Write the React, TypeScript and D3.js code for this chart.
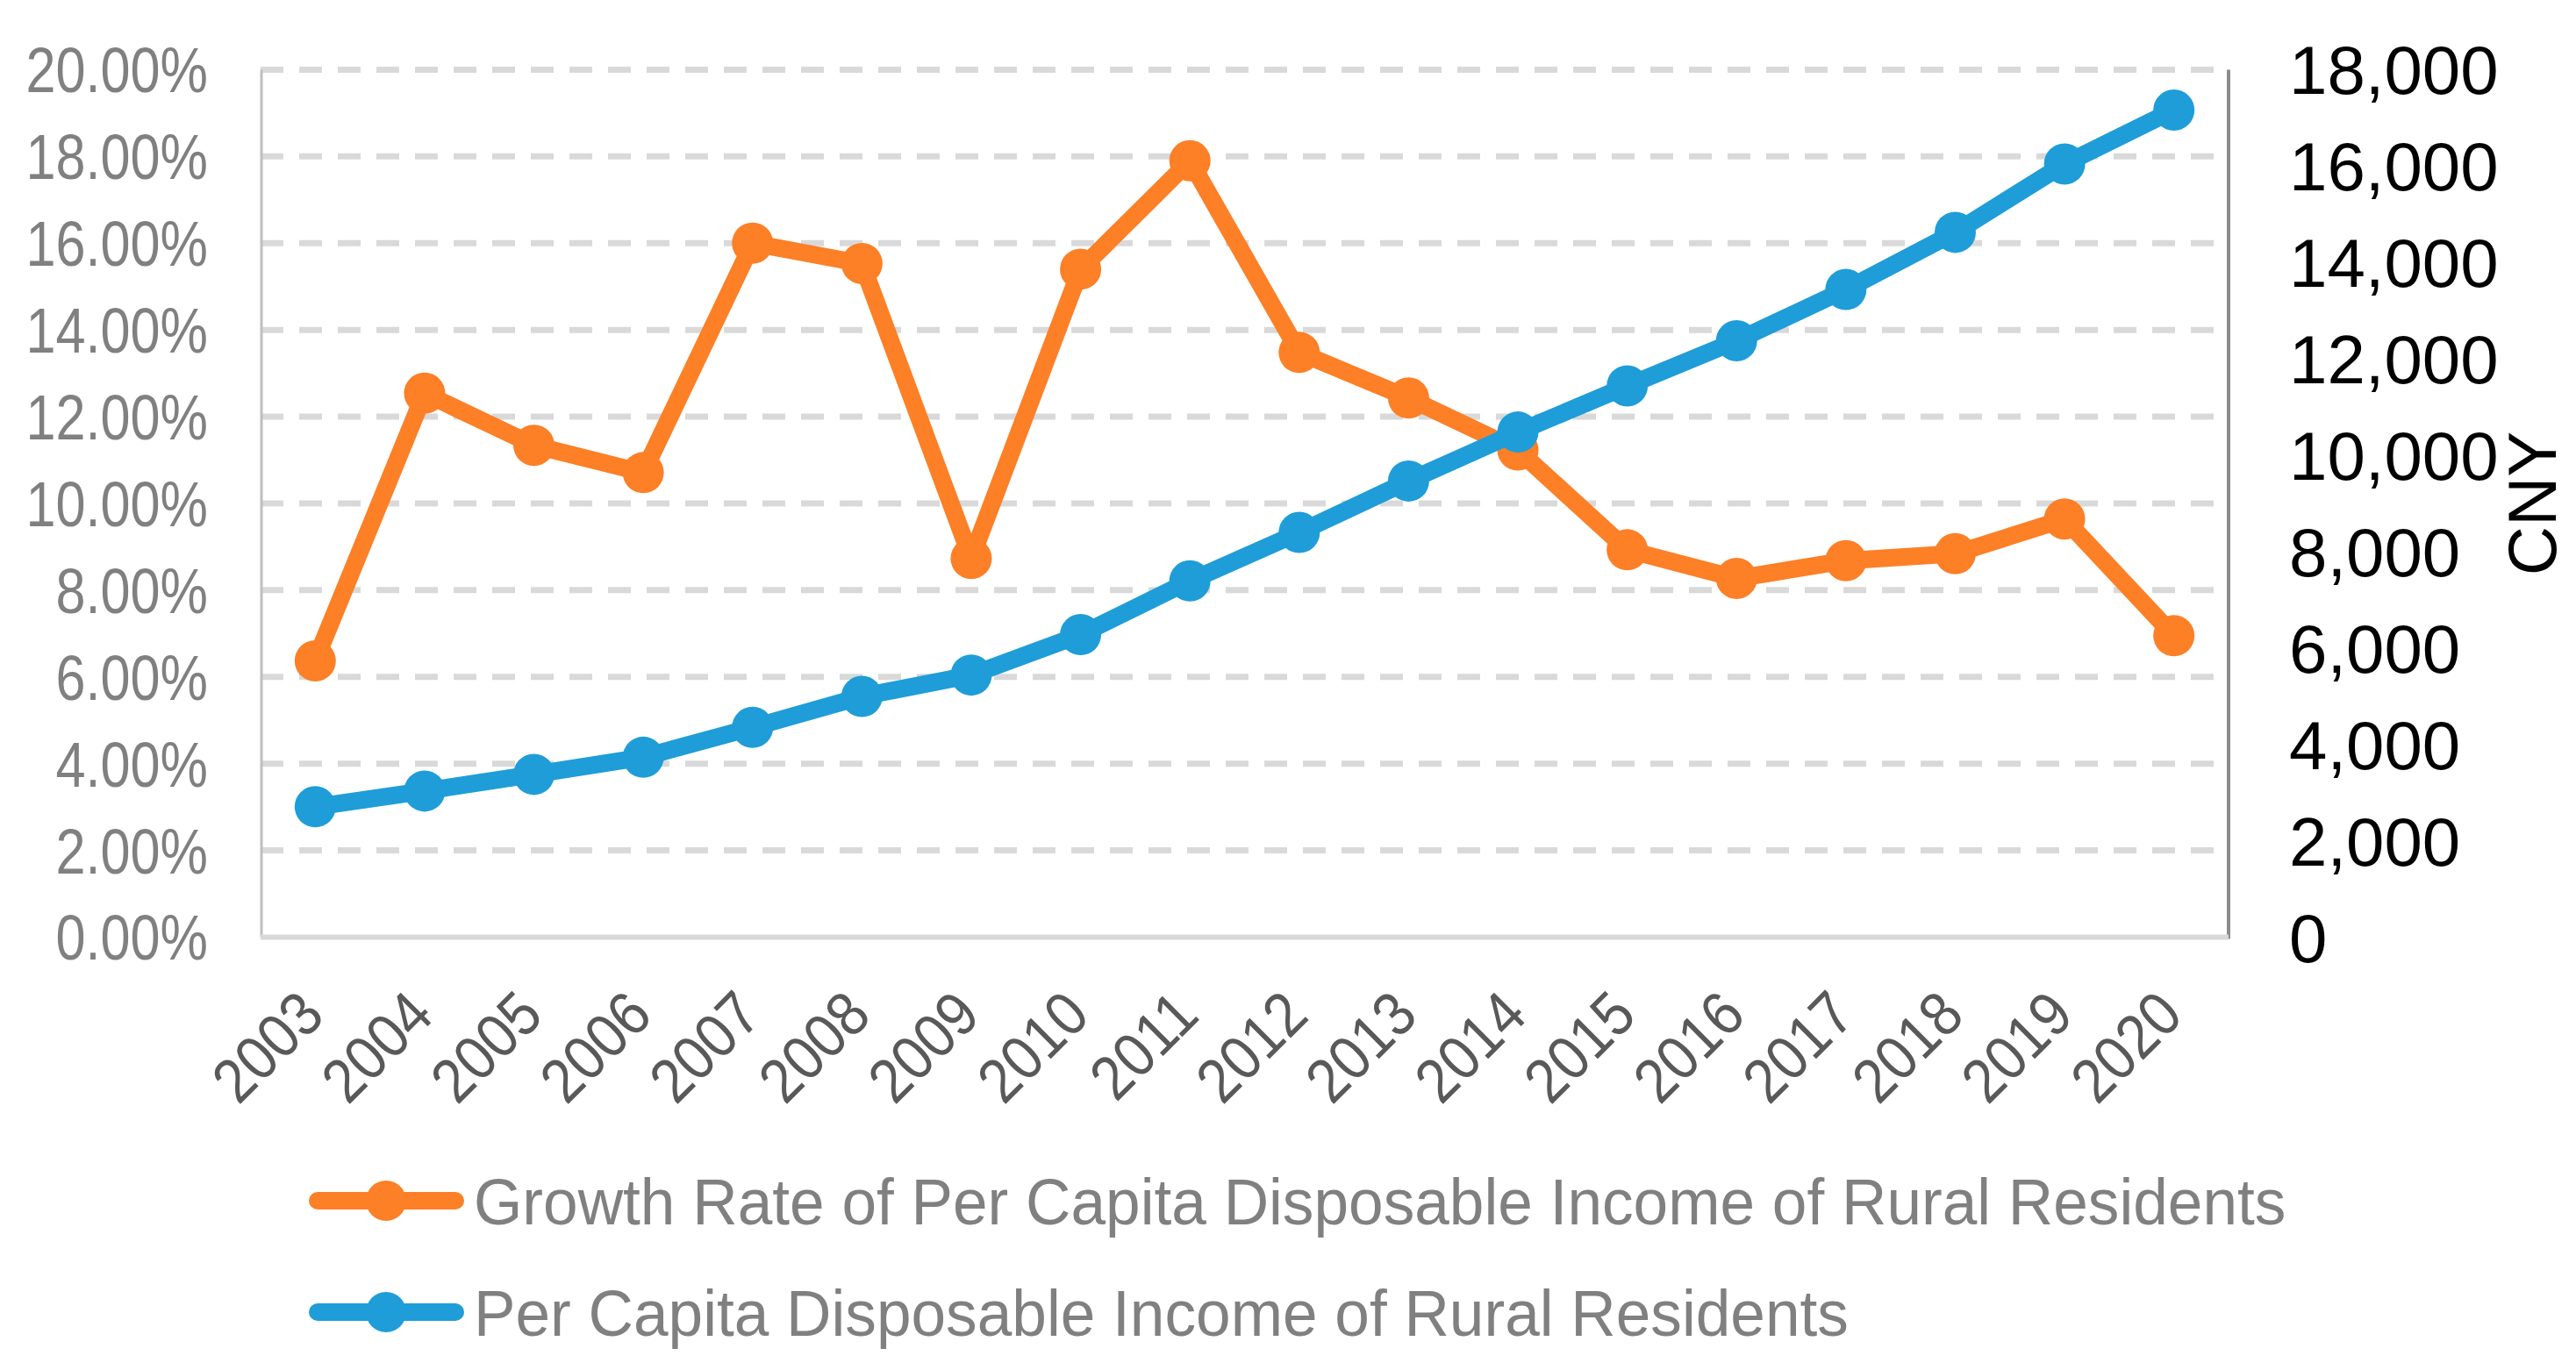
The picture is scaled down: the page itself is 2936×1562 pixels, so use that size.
import { useRef, useEffect } from "react";
import * as d3 from "d3";

const years = [
  "2003", "2004", "2005", "2006", "2007", "2008", "2009", "2010", "2011",
  "2012", "2013", "2014", "2015", "2016", "2017", "2018", "2019", "2020",
];
// growth rate, %
const growthRate = [
  6.37, 12.54, 11.34, 10.71, 16.0, 15.53, 8.73, 15.4, 17.9,
  13.48, 12.43, 11.23, 8.93, 8.27, 8.68, 8.84, 9.64, 6.95,
];
// per capita disposable income, CNY
const income = [
  2706, 3032, 3378, 3733, 4353, 4995, 5439, 6278, 7392,
  8398, 9465, 10480, 11438, 12375, 13439, 14624, 16043, 17161,
];
const leftTicks = [0, 2, 4, 6, 8, 10, 12, 14, 16, 18, 20];
const rightTicks = [0, 2000, 4000, 6000, 8000, 10000, 12000, 14000, 16000, 18000];
const seriesNames = [
  "Growth Rate of Per Capita Disposable Income of Rural Residents",
  "Per Capita Disposable Income of Rural Residents",
];

const ORANGE = "#fd7f26";
const BLUE = "#1e9dd8";
const SANS = "'Liberation Sans', Arial, sans-serif";

// squeeze text horizontally, the original uses a narrow font
function condense(sel: d3.Selection<SVGTextElement, any, any, any>, k: number) {
  sel.each(function () {
    const len = this.getComputedTextLength();
    d3.select(this)
      .attr("textLength", len * k)
      .attr("lengthAdjust", "spacingAndGlyphs");
  });
}

export default function App() {
  const svgRef = useRef<SVGSVGElement>(null);

  useEffect(() => {
    document.body.style.margin = "0";
    if (!svgRef.current) return;
    const svg = d3.select(svgRef.current);
    svg.selectAll("*").remove();

    const W = 2936;
    const H = 1562;
    const margin = { top: 79.4, right: 396, bottom: 493.5, left: 297 };
    const width = W - margin.left - margin.right;
    const height = H - margin.top - margin.bottom;

    svg.attr("viewBox", `0 0 ${W} ${H}`).attr("width", W).attr("height", H);
    svg.append("rect").attr("width", W).attr("height", H).attr("fill", "#fff");

    const g = svg
      .append("g")
      .attr("transform", `translate(${margin.left},${margin.top})`);

    const x = d3.scaleBand().domain(years).range([0, width]);
    const yL = d3.scaleLinear().domain([0, 20]).range([height, 0]);
    const yR = d3.scaleLinear().domain([0, 18000]).range([height, 0]);
    const cx = (d: string) => x(d)! + x.bandwidth() / 2;

    // gridlines
    g.selectAll(".grid")
      .data(leftTicks.filter((t) => t > 0))
      .join("line")
      .attr("x1", 0)
      .attr("x2", width)
      .attr("y1", (d) => yL(d))
      .attr("y2", (d) => yL(d))
      .attr("stroke", "#d9d9d9")
      .attr("stroke-width", 7)
      .attr("stroke-dasharray", "26,18");

    // axis lines
    g.append("line")
      .attr("x1", 1).attr("x2", 1)
      .attr("y1", 0).attr("y2", height)
      .attr("stroke", "#bfbfbf").attr("stroke-width", 3);
    g.append("line")
      .attr("x1", width).attr("x2", width)
      .attr("y1", 0).attr("y2", height + 2)
      .attr("stroke", "#8c8c8c").attr("stroke-width", 4);
    g.append("line")
      .attr("x1", 0).attr("x2", width)
      .attr("y1", height).attr("y2", height)
      .attr("stroke", "#d9d9d9").attr("stroke-width", 6);

    // left tick labels
    const lt = g.selectAll<SVGTextElement, number>(".lt")
      .data(leftTicks)
      .join("text")
      .attr("x", -60)
      .attr("y", (d) => yL(d))
      .attr("dy", "0.36em")
      .attr("text-anchor", "end")
      .attr("fill", "#808080")
      .style("font-family", SANS)
      .style("font-size", "72px")
      .text((d) => d3.format(".2f")(d) + "%");
    condense(lt, 0.85);

    // right tick labels
    g.selectAll(".rt")
      .data(rightTicks)
      .join("text")
      .attr("x", width + 69)
      .attr("y", (d) => yR(d))
      .attr("dy", "0.36em")
      .attr("text-anchor", "start")
      .attr("fill", "#000")
      .style("font-family", SANS)
      .style("font-size", "78px")
      .text((d) => d3.format(",")(d));

    g.append("text")
      .attr("transform", `translate(${width + 345},${height / 2}) rotate(-90)`)
      .attr("dy", "0.36em")
      .attr("text-anchor", "middle")
      .attr("fill", "#000")
      .style("font-family", SANS)
      .style("font-size", "78px")
      .text("CNY");

    // x labels
    const xt = g.selectAll<SVGTextElement, string>(".xt")
      .data(years)
      .join("text")
      .attr("transform", (d) => `translate(${cx(d) + 13},${height + 92}) rotate(-45)`)
      .attr("text-anchor", "end")
      .attr("fill", "#595959")
      .style("font-family", SANS)
      .style("font-size", "71px")
      .text((d) => d);
    condense(xt, 0.9);

    const series = [
      { values: growthRate, y: yL, color: ORANGE },
      { values: income, y: yR, color: BLUE },
    ];

    series.forEach((s) => {
      const line = d3
        .line<number>()
        .x((_, i) => cx(years[i]))
        .y((d) => s.y(d));
      g.append("path")
        .datum(s.values)
        .attr("fill", "none")
        .attr("stroke", s.color)
        .attr("stroke-width", 20)
        .attr("stroke-linejoin", "round")
        .attr("d", line);
      g.append("g")
        .selectAll("circle")
        .data(s.values)
        .join("circle")
        .attr("cx", (_, i) => cx(years[i]))
        .attr("cy", (d) => s.y(d))
        .attr("r", 23.5)
        .attr("fill", s.color);
    });

    // legend
    const legend = svg.append("g");
    const legendY = [1369, 1496];
    [ORANGE, BLUE].forEach((color, i) => {
      const row = legend.append("g").attr("transform", `translate(0,${legendY[i]})`);
      row.append("line")
        .attr("x1", 362).attr("x2", 519)
        .attr("stroke", color).attr("stroke-width", 20)
        .attr("stroke-linecap", "round");
      row.append("circle").attr("cx", 440).attr("r", 23).attr("fill", color);
      const t = row.append("text")
        .attr("x", 540)
        .attr("dy", "0.36em")
        .attr("fill", "#808080")
        .style("font-family", SANS)
        .style("font-size", "74px")
        .text(seriesNames[i]);
      condense(t as any, 0.962);
    });
  }, []);

  return <svg ref={svgRef} style={{ display: "block" }} />;
}
